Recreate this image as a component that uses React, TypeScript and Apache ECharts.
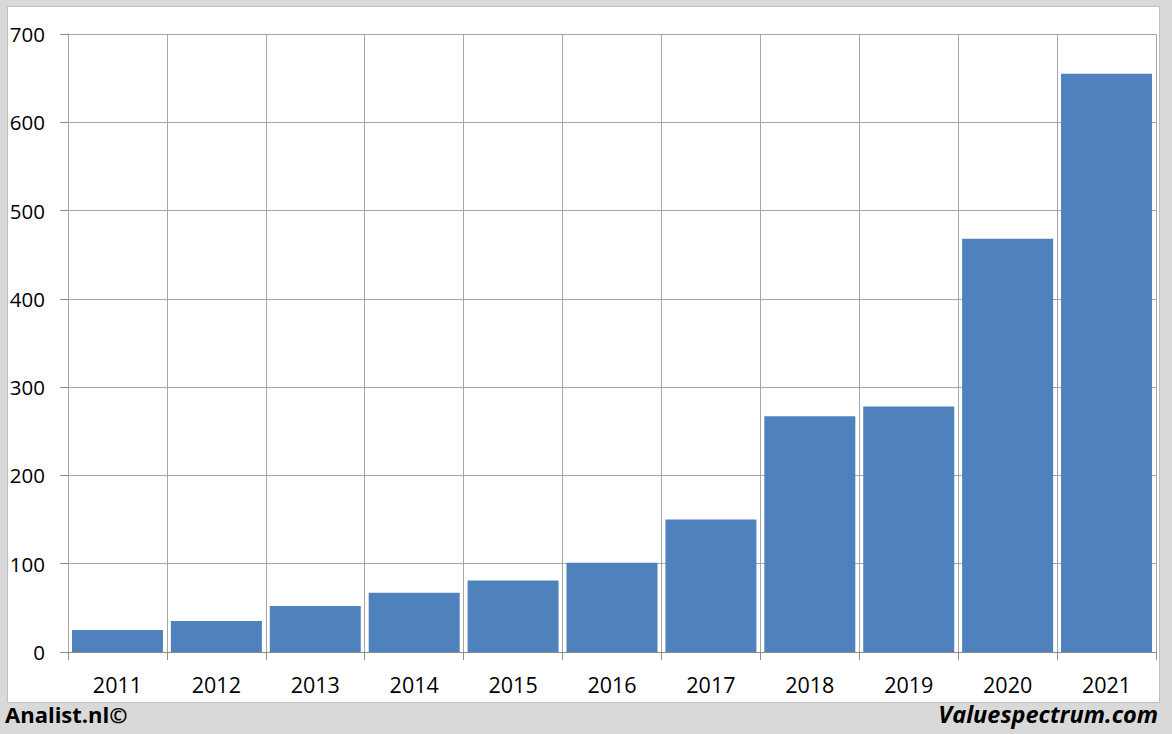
import React, { useEffect, useRef } from "react";
import * as echarts from "echarts";

const years = ["2011", "2012", "2013", "2014", "2015", "2016", "2017", "2018", "2019", "2020", "2021"];
const values = [25, 35, 52, 67, 81, 101, 150, 267, 278, 468, 655];
const yTicks = { min: 0, max: 700, interval: 100 };

export default function App() {
  const ref = useRef<HTMLDivElement>(null);
  useEffect(() => {
    document.body.style.margin = "0";
    const chart = echarts.init(ref.current!, null, { renderer: "svg" });
    chart.setOption({
      animation: false,
      backgroundColor: "#d9d9d9",
      graphic: [
        {
          type: "rect",
          shape: { x: 7.5, y: 6.5, width: 1152, height: 696 },
          style: { fill: "#ffffff", stroke: "#bfbfbf", lineWidth: 1 },
          z: -10,
        },
        {
          type: "text",
          left: 5,
          top: 703,
          style: { text: "Analist.nl©", font: "bold 22px 'Open Sans', sans-serif", fill: "#000" },
        },
        {
          type: "text",
          right: 14,
          top: 702,
          style: { text: "Valuespectrum.com", font: "italic bold 23.5px 'Open Sans', sans-serif", fill: "#000" },
        },
      ],
      grid: { left: 68, right: 16, top: 34, bottom: 82, containLabel: false },
      xAxis: {
        type: "category",
        data: years,
        boundaryGap: true,
        axisLine: { show: true, lineStyle: { color: "#8c8c8c", width: 1 } },
        axisTick: { show: true, length: 8, lineStyle: { color: "#8c8c8c" } },
        splitLine: { show: true, lineStyle: { color: "#a6a6a6", width: 1 } },
        axisLabel: { fontFamily: "'Open Sans', sans-serif", fontSize: 21.5, color: "#000", margin: 21 },
      },
      yAxis: {
        type: "value",
        min: yTicks.min,
        max: yTicks.max,
        interval: yTicks.interval,
        axisLine: { show: true, lineStyle: { color: "#a6a6a6", width: 1 } },
        axisTick: { show: true, length: 8, lineStyle: { color: "#8c8c8c" } },
        splitLine: { show: true, lineStyle: { color: "#a6a6a6", width: 1 } },
        axisLabel: { fontFamily: "'Open Sans', sans-serif", fontSize: 20.5, color: "#000", margin: 23 },
      },
      series: [
        {
          type: "bar",
          data: values,
          barCategoryGap: "8%",
          itemStyle: { color: "#4f81bd" },
        },
      ],
    });
    return () => chart.dispose();
  }, []);
  return <div ref={ref} style={{ width: 1172, height: 734 }} />;
}
